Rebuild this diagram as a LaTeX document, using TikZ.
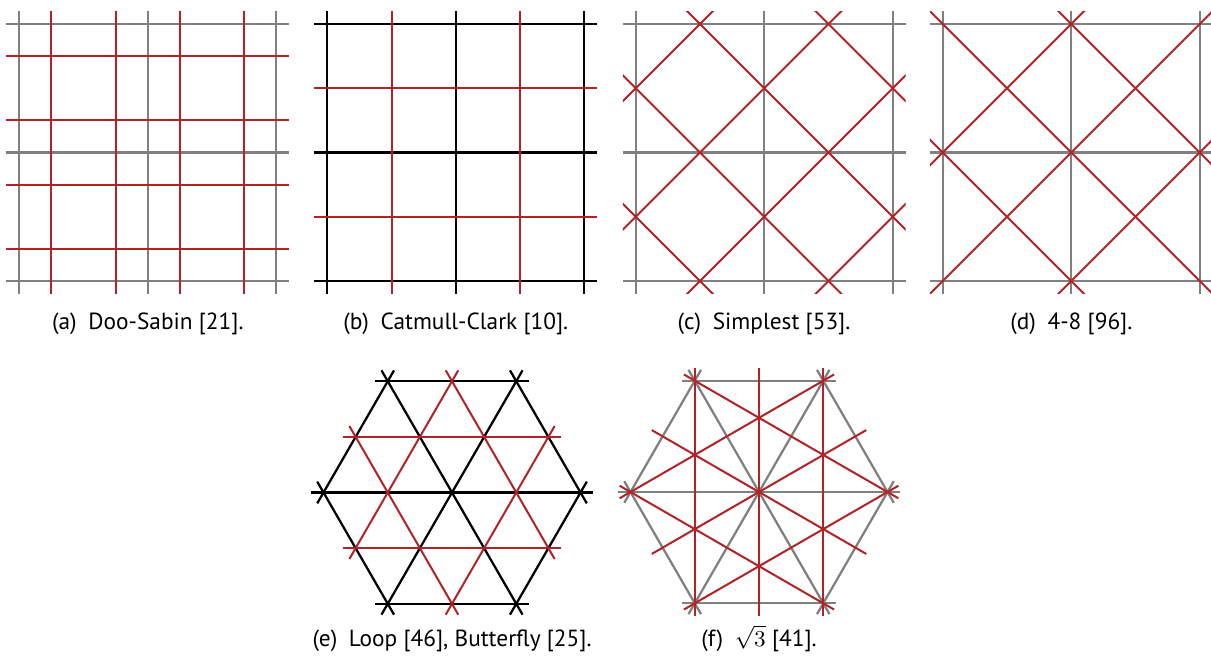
\documentclass[tikz,border=0pt]{standalone}
\usepackage{fontspec}
\setmainfont{PT Sans}
\usetikzlibrary{calc}
\definecolor{subdred}{RGB}{178,34,38}
\definecolor{meshgray}{RGB}{128,128,128}
% segment a--b, run on a little past both ends
\newcommand{\extseg}[3]{\draw[#1] ($(#2)!-5pt!(#3)$) -- ($(#3)!-5pt!(#2)$);}

\begin{document}
\begin{tikzpicture}[x=0.014cm, y=0.014cm,
  oldmesh/.style={line width=0.9pt, meshgray},
  oldmeshk/.style={line width=0.9pt, black},
  newmesh/.style={line width=0.8pt, subdred},
  subcap/.style={anchor=base, inner sep=0pt, font=\fontsize{9.3}{11}\selectfont},
]
\useasboundingbox (0,0) rectangle (1211,660);

% ---- (a) Doo-Sabin ----
\begin{scope}[shift={(19.3,379)}, scale=128.5]
  \foreach \t in {0,1,2} {
    \draw[oldmesh] (\t,-0.1) -- (\t,2.1);
    \draw[oldmesh] (-0.1,\t) -- (2.1,\t);
  }
  \foreach \t in {0.25,0.75,1.25,1.75} {
    \draw[newmesh] (\t,-0.1) -- (\t,2.1);
    \draw[newmesh] (-0.1,\t) -- (2.1,\t);
  }
\end{scope}
\node[subcap] (capa) at (147.8,331) {(a)\enspace Doo-Sabin [21].};

% ---- (b) Catmull-Clark ----
\begin{scope}[shift={(327.3,379)}, scale=128.5]
  \foreach \t in {0,1,2} {
    \draw[oldmeshk] (\t,-0.1) -- (\t,2.1);
    \draw[oldmeshk] (-0.1,\t) -- (2.1,\t);
  }
  \foreach \t in {0.5,1.5} {
    \draw[newmesh] (\t,-0.1) -- (\t,2.1);
    \draw[newmesh] (-0.1,\t) -- (2.1,\t);
  }
\end{scope}
\node[subcap] (capb) at (455.8,331) {(b)\enspace Catmull-Clark [10].};

% ---- (c) Simplest ----
\begin{scope}[shift={(635.7,379)}, scale=128.5]
  \foreach \t in {0,1,2} {
    \draw[oldmesh] (\t,-0.1) -- (\t,2.1);
    \draw[oldmesh] (-0.1,\t) -- (2.1,\t);
  }
  \begin{scope}
    \clip (-0.1,-0.1) rectangle (2.1,2.1);
    \foreach \c in {0.5,1.5,2.5,3.5}
      \draw[newmesh] (-1,\c+1) -- (\c+1,-1);
    \foreach \c in {-1.5,-0.5,0.5,1.5}
      \draw[newmesh] (-1,-1-\c) -- (3,3-\c);
  \end{scope}
\end{scope}
\node[subcap] (capc) at (764,331) {(c)\enspace Simplest [53].};

% ---- (d) 4-8 ----
\begin{scope}[shift={(942.7,379)}, scale=128.5]
  \foreach \t in {0,1,2} {
    \draw[oldmesh] (\t,-0.1) -- (\t,2.1);
    \draw[oldmesh] (-0.1,\t) -- (2.1,\t);
  }
  \begin{scope}
    \clip (-0.1,-0.1) rectangle (2.1,2.1);
    \foreach \c in {1,2,3}
      \draw[newmesh] (-1,\c+1) -- (\c+1,-1);
    \foreach \c in {-1,0,1}
      \draw[newmesh] (-1,-1-\c) -- (3,3-\c);
  \end{scope}
\end{scope}
\node[subcap] (capd) at (1071.3,331) {(d)\enspace 4-8 [96].};

% ---- (e) Loop / Butterfly ----
\foreach \k in {0,...,5}
  \coordinate (e\k) at ($(452,167.5)+(\k*60:128.5)$);
\foreach \a/\b in {0/1,1/2,2/3,3/4,4/5,5/0}
  \coordinate (em\a\b) at ($(e\a)!0.5!(e\b)$);
\foreach \a/\b in {0/1,1/2,2/3,3/4,4/5,5/0,0/3,1/4,2/5}
  {\extseg{oldmeshk}{e\a}{e\b}}
\extseg{newmesh}{em23}{em01}
\extseg{newmesh}{em34}{em50}
\extseg{newmesh}{em12}{em34}
\extseg{newmesh}{em01}{em45}
\extseg{newmesh}{em23}{em45}
\extseg{newmesh}{em12}{em50}
\node[subcap] (cape) at (452,14) {(e)\enspace Loop [46], Butterfly [25].};

% ---- (f) sqrt(3) ----
\foreach \k in {0,...,5}
  \coordinate (f\k) at ($(759,168)+(\k*60:128.5)$);
\foreach \a/\b in {0/1,1/2,2/3,3/4,4/5,5/0}
  \coordinate (fm\a\b) at ($(f\a)!0.5!(f\b)$);
\foreach \a/\b in {0/1,1/2,2/3,3/4,4/5,5/0,0/3,1/4,2/5}
  {\extseg{oldmesh}{f\a}{f\b}}
% verticals
\extseg{newmesh}{f2}{f4}
\extseg{newmesh}{fm12}{fm45}
\extseg{newmesh}{f1}{f5}
% rising
\extseg{newmesh}{f3}{f1}
\extseg{newmesh}{fm34}{fm01}
\extseg{newmesh}{f4}{f0}
% falling
\extseg{newmesh}{f2}{f0}
\extseg{newmesh}{fm23}{fm50}
\extseg{newmesh}{f3}{f5}
\node[subcap] (capf) at (759,14) {(f)\enspace $\sqrt{3}$ [41].};
\end{tikzpicture}
\end{document}
